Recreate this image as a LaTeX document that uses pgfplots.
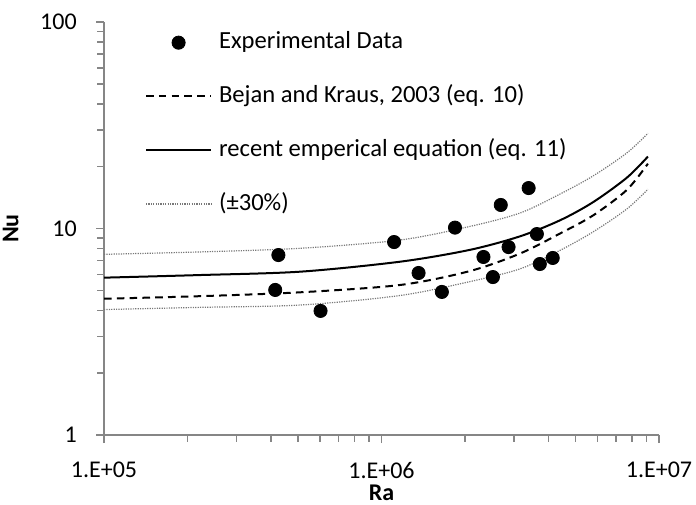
\documentclass[border=0pt]{standalone}
\usepackage{pgfplots}
\pgfplotsset{compat=1.18}
\usepackage{fontspec}
\setmainfont{Carlito}
\definecolor{axgray}{RGB}{134,134,134}
\definecolor{dotgray}{RGB}{120,120,120}
\pgfplotsset{
  markslegend/.style={legend image code/.code={\path (0pt,0pt) (32.5pt,0pt); \draw[##1] plot coordinates {(16.25pt,0pt)};}},
}
\begin{document}
\begin{tikzpicture}
\useasboundingbox (0,0) rectangle (348pt,252pt);
\begin{axis}[
  at={(52pt,34.5pt)}, anchor=south west,
  scale only axis, width=277.5pt, height=206.5pt,
  xmode=log, ymode=log,
  xmin=1e5, xmax=1e7, ymin=1, ymax=100,
  axis lines=left,
  axis line style={-, axgray, line width=0.8pt},
  tick align=outside,
  major tick length=4pt, minor tick length=3.5pt,
  every tick/.style={axgray, line width=0.8pt},
  xtick={1e5,1e6,1e7}, xticklabels={1.E+05,1.E+06,1.E+07},
  ytick={1,10,100}, yticklabels={1,10,100},
  minor xtick={2e5,3e5,4e5,5e5,6e5,7e5,8e5,9e5,2e6,3e6,4e6,5e6,6e6,7e6,8e6,9e6},
  minor ytick={2,3,4,5,6,7,8,9,20,30,40,50,60,70,80,90},
  /pgf/number format/assume math mode=true,
  tick label style={font=\fontsize{12pt}{14pt}\selectfont, black},
  xticklabel style={anchor=north, inner sep=0pt, yshift=-9.5pt},
  yticklabel style={anchor=east, inner sep=0pt, xshift=-9.5pt},
  xlabel={\textbf{Ra}}, ylabel={\textbf{Nu}},
  label style={font=\fontsize{12pt}{14pt}\selectfont, inner sep=0pt},
  xlabel style={at={(axis description cs:0.5,-0.141)}, anchor=center},
  ylabel style={at={(axis description cs:-0.168,0.5)}, anchor=center},
  legend image code/.code={\draw[#1] (0pt,0pt) -- (32.5pt,0pt);},
  legend cell align=left,
  legend style={draw=none, fill=none, at={(rel axis cs:0.074,0.979)}, anchor=north west,
    inner sep=0pt, outer sep=0pt, row sep=14.9pt,
    font=\fontsize{12.3pt}{14pt}\selectfont,
    nodes={inner sep=0pt, text height=9pt, text depth=3pt},
    /tikz/every odd column/.append style={column sep=3.5pt}},
]
\addlegendimage{black, only marks, mark=*, mark size=3.3pt, markslegend}
\addlegendentry{Experimental Data}
\addlegendimage{black, line width=1pt, dash pattern=on 3.8pt off 2.6pt}
\addlegendentry{Bejan and Kraus, 2003 (eq. 10)}
\addlegendimage{black, line width=1pt}
\addlegendentry{recent emperical equation (eq. 11)}
\addlegendimage{dotgray, line width=0.6pt, dash pattern=on 0.6pt off 0.6pt}
\addlegendentry{(\textpm30\%)}

% upper +30%
\addplot[forget plot, dotgray, line width=0.6pt, dash pattern=on 0.6pt off 0.6pt, smooth] coordinates {
 (1e5,7.50) (2.2e5,7.7) (5.1e5,8.02) (1.17e6,8.80) (2.08e6,10.23) (3.16e6,11.89) (4.4e6,14.69) (5.78e6,17.95) (7.65e6,23.2) (9.12e6,28.9)};
% lower -30%
\addplot[forget plot, dotgray, line width=0.6pt, dash pattern=on 0.6pt off 0.6pt, smooth] coordinates {
 (1e5,4.05) (2.2e5,4.15) (5.1e5,4.26) (1.17e6,4.74) (2.08e6,5.53) (3.16e6,6.38) (4.4e6,7.84) (5.78e6,9.62) (7.65e6,12.42) (9.12e6,15.49)};
% Bejan and Kraus
\addplot[forget plot, black, line width=1pt, dash pattern=on 3.8pt off 2.6pt, smooth] coordinates {
 (1e5,4.57) (2.2e5,4.7) (5.1e5,4.91) (1.17e6,5.33) (2.08e6,6.22) (3.16e6,7.57) (4.4e6,9.46) (5.78e6,11.56) (7.65e6,15.36) (9.12e6,20.6)};
% recent empirical equation
\addplot[forget plot, black, line width=1pt, smooth] coordinates {
 (1e5,5.78) (2.2e5,5.95) (5.1e5,6.18) (1.17e6,6.91) (2.08e6,7.88) (3.16e6,9.17) (4.4e6,10.96) (5.78e6,13.4) (7.65e6,17.6) (9.12e6,22.3)};
% experimental data
\addplot[forget plot, black, only marks, mark=*, mark size=3.3pt] coordinates {
 (4.25e5,7.44) (4.14e5,5.04) (6.03e5,3.99) (1.11e6,8.6) (1.36e6,6.09) (1.65e6,4.93)
 (1.84e6,10.1) (2.33e6,7.28) (2.52e6,5.82) (2.69e6,13.0) (2.87e6,8.13) (3.39e6,15.7)
 (3.63e6,9.4) (3.72e6,6.73) (4.14e6,7.2)};
\end{axis}
\end{tikzpicture}
\end{document}
